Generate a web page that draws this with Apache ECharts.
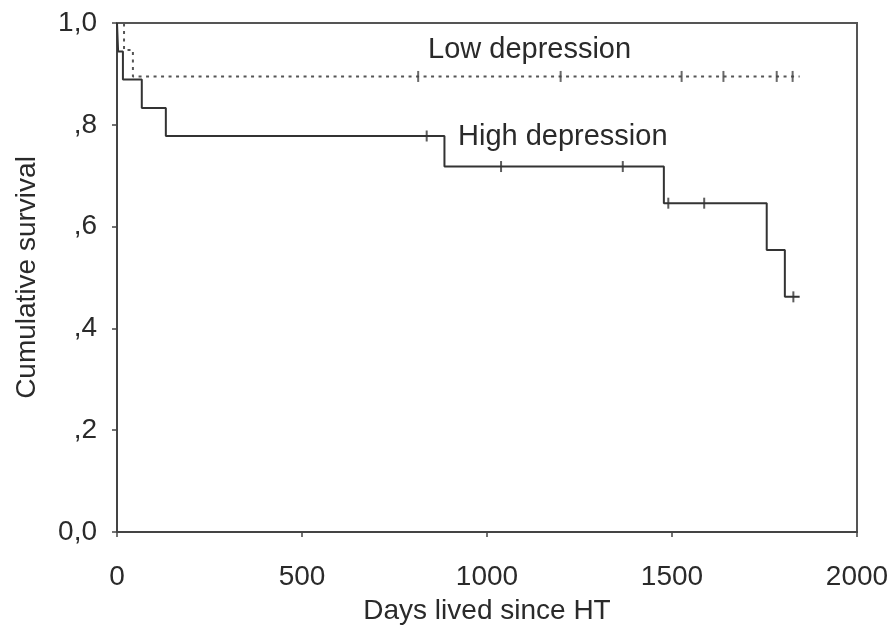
<!DOCTYPE html>
<html>
<head>
<meta charset="utf-8">
<script src="https://cdn.jsdelivr.net/npm/echarts@6/dist/echarts.min.js"></script>
<style>
  html, body { margin: 0; padding: 0; background: #fff; }
  #chart { width: 893px; height: 628px; }
</style>
</head>
<body>
<div id="chart"></div>
<script>
// Kaplan-Meier survival after heart transplantation, by depression level
const highEventDays = [0, 3, 16, 67, 132, 885, 1478, 1756, 1805, 1845];
const highSurvival  = [1.0, 0.944, 0.889, 0.833, 0.778, 0.718, 0.646, 0.554, 0.462, 0.462];
const highCensorDays = [837, 1038, 1367, 1490, 1587, 1828];
const highCensorSurv = [0.778, 0.718, 0.718, 0.646, 0.646, 0.462];

const lowEventDays = [0, 19, 43, 1845];
const lowSurvival  = [1.0, 0.947, 0.895, 0.895];
const lowCensorDays = [814, 1199, 1526, 1639, 1783, 1826];
const lowCensorSurv = [0.895, 0.895, 0.895, 0.895, 0.895, 0.895];

const xTicks = [0, 500, 1000, 1500, 2000];
const yTickLabels = { '0': '0,0', '0.2': ',2', '0.4': ',4', '0.6': ',6', '0.8': ',8', '1': '1,0' };

const zip = (xs, ys) => xs.map((x, i) => [x, ys[i]]);
const FONT = 'Liberation Sans, Arial, sans-serif';
const INK = '#2a2a2a';
const AXIS_SIZE = 28;
const NOTE_SIZE = 29;

const chart = echarts.init(document.getElementById('chart'), null, { renderer: 'canvas' });
chart.setOption({
  animation: false,
  backgroundColor: '#fff',
  grid: {
    left: 117, right: 36, top: 23, bottom: 96, outerBoundsMode: 'none',
    show: true, borderColor: '#555', borderWidth: 2
  },
  xAxis: {
    type: 'value', min: xTicks[0], max: xTicks[xTicks.length - 1], interval: 500,
    name: 'Days lived since HT', nameLocation: 'middle', nameGap: 65,
    nameTextStyle: { fontFamily: FONT, fontSize: AXIS_SIZE, color: INK },
    axisLine: { show: true, lineStyle: { color: '#444', width: 2 } },
    axisTick: { show: true, inside: false, length: 5, lineStyle: { color: '#444', width: 1.5 } },
    axisLabel: { margin: 31, fontFamily: FONT, fontSize: AXIS_SIZE, color: INK, formatter: v => String(v) },
    splitLine: { show: false }
  },
  yAxis: {
    type: 'value', min: 0, max: 1, interval: 0.2,
    name: 'Cumulative survival', nameLocation: 'middle', nameGap: 76, nameRotate: 90,
    nameTextStyle: { fontFamily: FONT, fontSize: AXIS_SIZE, color: INK },
    axisLine: { show: true, lineStyle: { color: '#444', width: 2 } },
    axisTick: { show: true, length: 5, lineStyle: { color: '#444', width: 1.5 } },
    axisLabel: {
      margin: 20, fontFamily: FONT, fontSize: AXIS_SIZE, color: INK,
      formatter: v => yTickLabels[String(+v.toFixed(1))] ?? ''
    },
    splitLine: { show: false }
  },
  series: [
    {
      name: 'High depression', type: 'line', step: 'end', symbol: 'none',
      data: zip(highEventDays, highSurvival),
      lineStyle: { color: '#333', width: 2 }, z: 3
    },
    {
      name: 'High depression censored', type: 'scatter',
      data: zip(highCensorDays, highCensorSurv),
      symbol: 'rect', symbolSize: [2, 11], itemStyle: { color: '#333' }, z: 4
    },
    {
      name: 'Low depression', type: 'line', step: 'end', symbol: 'none',
      data: zip(lowEventDays, lowSurvival),
      lineStyle: { color: '#555', width: 2, type: [3, 4.5] }, z: 2
    },
    {
      name: 'Low depression censored', type: 'scatter',
      data: zip(lowCensorDays, lowCensorSurv),
      symbol: 'rect', symbolSize: [2, 11], itemStyle: { color: '#444' }, z: 4
    }
  ],
  graphic: [
    { type: 'text', left: 428, top: 35, style: { text: 'Low depression', font: NOTE_SIZE + 'px ' + FONT, fill: INK } },
    { type: 'text', left: 458, top: 122, style: { text: 'High depression', font: NOTE_SIZE + 'px ' + FONT, fill: INK } }
  ]
});
</script>
</body>
</html>
